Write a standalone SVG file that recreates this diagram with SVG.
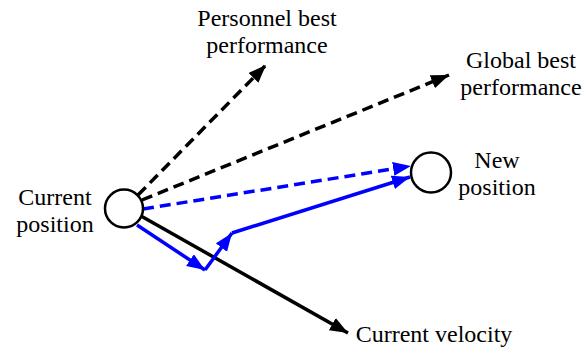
<svg xmlns="http://www.w3.org/2000/svg" width="588" height="349" viewBox="0 0 588 349">
<style>
text{font-family:'Liberation Serif','Times New Roman',Times,serif;font-size:24px;fill:#000;text-anchor:middle}
.node{fill:#fff;stroke:#000;stroke-width:2.5}
.blk{stroke:#000;stroke-width:3.5;fill:none}
.blu{stroke:#0000ff;stroke-width:3.5;fill:none}
.dash{stroke-dasharray:11 6}
</style>
<defs>
<marker id="ab" markerUnits="userSpaceOnUse" markerWidth="19" markerHeight="15" refX="18" refY="7" orient="auto" viewBox="0 0 19 15">
<path d="M0,0 L18,7 L0,14 z" fill="#000"/>
</marker>
<marker id="au" markerUnits="userSpaceOnUse" markerWidth="19" markerHeight="15" refX="18" refY="7" orient="auto" viewBox="0 0 19 15">
<path d="M0,0 L18,7 L0,14 z" fill="#0000ff"/>
</marker>
</defs>
<g id="connectors">
<line class="blk dash" x1="138" y1="195" x2="266" y2="65" marker-end="url(#ab)"/>
<line class="blk dash" x1="142" y1="200" x2="449" y2="75" marker-end="url(#ab)"/>
<line class="blu dash" x1="143" y1="209" x2="411" y2="166" marker-end="url(#au)"/>
<line class="blk" x1="141" y1="216" x2="348" y2="333" marker-end="url(#ab)"/>
<line class="blu" x1="137" y1="225" x2="205" y2="270" marker-end="url(#au)"/>
<line class="blu" x1="205" y1="270" x2="232" y2="233" marker-end="url(#au)"/>
<line class="blu" x1="232" y1="233" x2="410" y2="177" marker-end="url(#au)"/>
</g>
<g id="current-position">
<circle class="node" cx="124" cy="208.5" r="19"/>
<text x="55" y="205">Current</text>
<text x="55" y="232">position</text>
</g>
<g id="new-position">
<circle class="node" cx="431" cy="172.5" r="20"/>
<text x="497" y="168">New</text>
<text x="497" y="195">position</text>
</g>
<g id="personnel-best">
<text x="267" y="26">Personnel best</text>
<text x="267" y="53">performance</text>
</g>
<g id="global-best">
<text x="521" y="68">Global best</text>
<text x="521" y="95">performance</text>
</g>
<g id="current-velocity">
<text x="434" y="342">Current velocity</text>
</g>
</svg>
